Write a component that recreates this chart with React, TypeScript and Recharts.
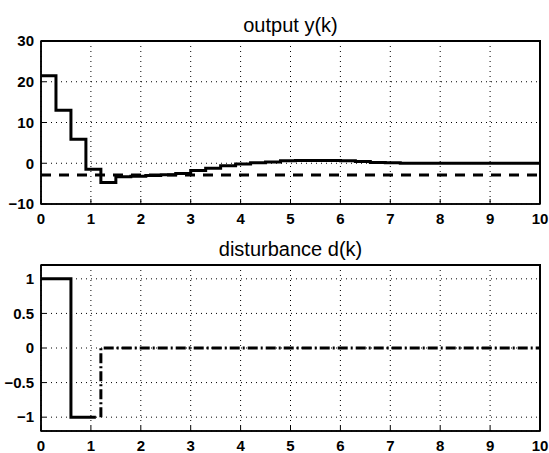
import React from "react";
import { LineChart, Line, XAxis, YAxis, CartesianGrid, ReferenceArea } from "recharts";

// sample instants k*T, T = 0.3
const sampleTimes = [
  0, 0.3, 0.6, 0.9, 1.2, 1.5, 1.8, 2.1, 2.4, 2.7, 3.0, 3.3, 3.6, 3.9, 4.2, 4.5,
  4.8, 5.1, 5.4, 5.7, 6.0, 6.3, 6.6, 6.9, 7.2, 7.5, 7.8, 8.1, 8.4, 8.7, 9.0,
  9.3, 9.6, 9.9, 10,
];
const outputValues = [
  21.5, 13, 5.9, -1.5, -4.7, -3.3, -3.2, -3.0, -2.8, -2.5, -1.8, -1.2, -0.6,
  -0.2, 0.1, 0.3, 0.6, 0.7, 0.7, 0.7, 0.6, 0.4, 0.2, 0.1, 0, 0, 0, 0, 0, 0, 0,
  0, 0, 0, 0,
];
const referenceTimes = [0, 10];
const referenceValues = [-2.9, -2.9];

const disturbanceTimes = [0, 0.6, 1.1];
const disturbanceValues = [1, -1, -1];
const estimateTimes = [1.2, 1.2, 10];
const estimateValues = [-1, 0, 0];

const xTicks = [0, 1, 2, 3, 4, 5, 6, 7, 8, 9, 10];
const outputTicks = [-10, 0, 10, 20, 30];
const disturbanceTicks = [-1, -0.5, 0, 0.5, 1];

const toPoints = (xs: number[], ys: number[]) =>
  xs.map((t, i) => ({ t, v: ys[i] }));

const FONT = "'Liberation Sans', Arial, Helvetica, sans-serif";
const tickStyle = { fill: "#000", fontSize: 15, fontWeight: 700, fontFamily: FONT };
const fmt = (v: number) => (v < 0 ? "\u2212" + Math.abs(v) : String(v));
const frame = { stroke: "#000", strokeWidth: 1.5 };

// plot box inside each panel
const PLOT_LEFT = 41;
const PLOT_TOP = 41;
const PLOT_RIGHT_MARGIN = 9;

interface Series {
  data: { t: number; v: number }[];
  type: "stepAfter" | "linear";
  dash?: string;
  width: number;
}

interface PanelProps {
  title: string;
  top: number;
  height: number;
  yDomain: [number, number];
  yTicks: number[];
  xAxisHeight: number;
  series: Series[];
}

const Panel: React.FC<PanelProps> = ({ title, top, height, yDomain, yTicks, xAxisHeight, series }) => (
  <div style={{ position: "absolute", left: 0, top, width: 549, height }}>
    <div
      style={{
        position: "absolute",
        left: PLOT_LEFT,
        width: 549 - PLOT_LEFT - PLOT_RIGHT_MARGIN,
        top: 13,
        textAlign: "center",
        fontFamily: FONT,
        fontSize: 20,
        lineHeight: "24px",
        color: "#000",
      }}
    >
      {title}
    </div>
    <LineChart
      width={549}
      height={height}
      margin={{ top: PLOT_TOP, right: PLOT_RIGHT_MARGIN, bottom: 0, left: 0 }}
    >
      <CartesianGrid stroke="#000" strokeDasharray="1 4" strokeWidth={1} />
      <XAxis
        dataKey="t"
        type="number"
        domain={[0, 10]}
        ticks={xTicks}
        interval={0}
        height={xAxisHeight}
        tickSize={-5}
        tickMargin={14}
        axisLine={frame}
        tickLine={{ stroke: "#000" }}
        tick={tickStyle}
      />
      <YAxis
        type="number"
        domain={yDomain}
        ticks={yTicks}
        interval={0}
        width={PLOT_LEFT}
        tickSize={-5}
        tickMargin={12}
        axisLine={frame}
        tickLine={{ stroke: "#000" }}
        tick={tickStyle}
        tickFormatter={fmt}
      />
      {/* axes box */}
      <ReferenceArea
        x1={0}
        x2={10}
        y1={yDomain[0]}
        y2={yDomain[1]}
        fill="none"
        fillOpacity={0}
        stroke="#000"
        strokeWidth={1.5}
        ifOverflow="visible"
      />
      {series.map((s, i) => (
        <Line
          key={i}
          data={s.data}
          dataKey="v"
          type={s.type}
          stroke="#000"
          strokeWidth={s.width}
          strokeDasharray={s.dash}
          dot={false}
          activeDot={false}
          isAnimationActive={false}
        />
      ))}
    </LineChart>
    {/* top and right edges of the axes box, as a fallback */}
    <div
      style={{
        position: "absolute",
        left: PLOT_LEFT,
        top: PLOT_TOP - 1,
        width: 549 - PLOT_LEFT - PLOT_RIGHT_MARGIN + 1,
        height: height - xAxisHeight - PLOT_TOP + 1,
        boxSizing: "border-box",
        borderTop: "2px solid #000",
        borderRight: "2px solid #000",
        pointerEvents: "none",
        zIndex: 2,
      }}
    />
  </div>
);

export default function App() {
  return (
    <div style={{ position: "absolute", left: 0, top: 0, width: 549, height: 453, background: "#fff" }}>
      <Panel
        title="output y(k)"
        top={0}
        height={230}
        yDomain={[-10, 30]}
        yTicks={outputTicks}
        xAxisHeight={26}
        series={[
          { data: toPoints(sampleTimes, outputValues), type: "stepAfter", width: 3 },
          { data: toPoints(referenceTimes, referenceValues), type: "linear", dash: "10 8", width: 3 },
        ]}
      />
      <Panel
        title="disturbance d(k)"
        top={224}
        height={229}
        yDomain={[-1.2, 1.2]}
        yTicks={disturbanceTicks}
        xAxisHeight={22}
        series={[
          { data: toPoints(disturbanceTimes, disturbanceValues), type: "stepAfter", width: 3 },
          { data: toPoints(estimateTimes, estimateValues), type: "linear", dash: "10 3 2 3", width: 3 },
        ]}
      />
    </div>
  );
}
